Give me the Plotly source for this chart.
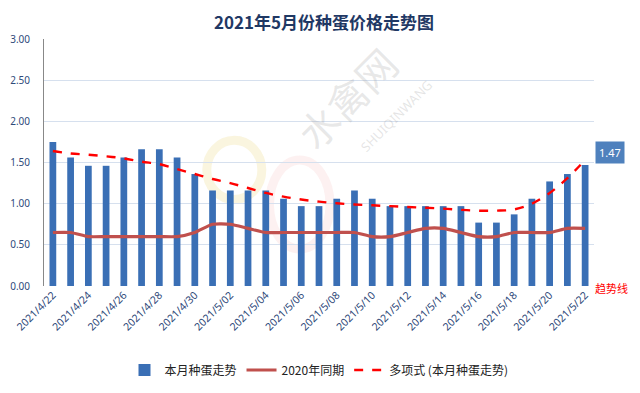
import plotly.graph_objects as go

dates = ["2021/4/22", "2021/4/23", "2021/4/24", "2021/4/25", "2021/4/26", "2021/4/27",
         "2021/4/28", "2021/4/29", "2021/4/30", "2021/5/01", "2021/5/02", "2021/5/03",
         "2021/5/04", "2021/5/05", "2021/5/06", "2021/5/07", "2021/5/08", "2021/5/09",
         "2021/5/10", "2021/5/11", "2021/5/12", "2021/5/13", "2021/5/14", "2021/5/15",
         "2021/5/16", "2021/5/17", "2021/5/18", "2021/5/19", "2021/5/20", "2021/5/21",
         "2021/5/22"]
this_month = [1.75, 1.56, 1.46, 1.46, 1.56, 1.66, 1.66, 1.56, 1.36, 1.16, 1.16, 1.16,
              1.16, 1.06, 0.97, 0.97, 1.06, 1.16, 1.06, 0.97, 0.97, 0.97, 0.97, 0.97,
              0.77, 0.77, 0.87, 1.06, 1.27, 1.36, 1.47]
same_2020 = [0.65, 0.65, 0.60, 0.60, 0.60, 0.60, 0.60, 0.60, 0.65, 0.75, 0.75, 0.70,
             0.65, 0.65, 0.65, 0.65, 0.65, 0.65, 0.60, 0.60, 0.65, 0.70, 0.70, 0.65,
             0.60, 0.60, 0.65, 0.65, 0.65, 0.70, 0.70]
trend = [1.64, 1.61, 1.595, 1.575, 1.55, 1.51, 1.48, 1.42, 1.36, 1.30, 1.25, 1.19,
         1.13, 1.085, 1.05, 1.025, 1.005, 0.99, 0.98, 0.97, 0.96, 0.95, 0.94, 0.925,
         0.915, 0.915, 0.93, 1.0, 1.13, 1.31, 1.53]
tick_labels = dates[::2]
y_ticks = [0, 0.5, 1.0, 1.5, 2.0, 2.5, 3.0]

label_color = "#2F4A7A"
cjk = "Noto Sans CJK SC"

fig = go.Figure()
fig.add_trace(go.Bar(x=dates, y=this_month, name="本月种蛋走势",
                     marker=dict(color="#3A6FB5", line=dict(width=0))))
fig.add_trace(go.Scatter(x=dates, y=same_2020, name="2020年同期", mode="lines",
                         line=dict(color="#C0504D", width=3.2, shape="spline", smoothing=0.6)))
fig.add_trace(go.Scatter(x=dates, y=trend, name="多项式 (本月种蛋走势)", mode="lines",
                         line=dict(color="#FF0000", width=2.4, dash="dash", shape="spline")))

# faint logo rings (watermark)
fig.add_shape(type="circle", xref="paper", yref="paper", x0=0.296, x1=0.396, y0=0.35, y1=0.59,
              line=dict(color="rgba(230,200,80,0.18)", width=9), layer="below")
fig.add_shape(type="circle", xref="paper", yref="paper", x0=0.41, x1=0.52, y0=0.15, y1=0.51,
              line=dict(color="rgba(240,150,150,0.13)", width=9), layer="below")
# watermark text
fig.add_annotation(x=0.55, y=0.76, xref="paper", yref="paper", text="水禽网",
                   showarrow=False, textangle=-45, xanchor="center", yanchor="middle",
                   font=dict(family=cjk, size=40, color="rgba(150,150,150,0.22)"))
fig.add_annotation(x=0.64, y=0.69, xref="paper", yref="paper", text="SHUIQINWANG",
                   showarrow=False, textangle=-45, xanchor="center", yanchor="middle",
                   font=dict(family="Noto Sans", size=13, color="rgba(150,150,150,0.25)"))

# data label
fig.add_annotation(x=dates[-1], y=this_month[-1], text=str(this_month[-1]),
                   showarrow=False, xshift=25, yshift=12, bgcolor="#4F81BD",
                   font=dict(family="Noto Sans", size=11, color="white"), borderpad=3)
# trend label
fig.add_annotation(x=1.0655, y=-0.01, xref="paper", yref="paper", text="趋势线",
                   showarrow=False, xanchor="right", yanchor="middle",
                   font=dict(family=cjk, size=11, color="#FF0000"))

# page body has an 8px margin, so the figure is 8px smaller and shifted
fig.update_layout(
    width=632, height=385,
    margin=dict(l=36, r=46, t=31, b=107, autoexpand=False),
    paper_bgcolor="white", plot_bgcolor="white",
    title=dict(text="<b>2021年5月份种蛋价格走势图</b>", x=0.5, xanchor="center",
               y=0.962, yanchor="middle",
               font=dict(family=cjk, size=17, color="#1F3864")),
    bargap=0.62,
    showlegend=True,
    legend=dict(orientation="h", x=0.5, xanchor="center", y=-0.34, yanchor="middle",
                font=dict(family=cjk, size=12, color="#222222"), traceorder="normal"),
    font=dict(family="Noto Sans", color=label_color),
)
fig.update_xaxes(type="category", range=[-0.5, len(dates) - 0.5],
                 tickmode="array", tickvals=tick_labels, ticktext=tick_labels,
                 tickangle=-45, tickfont=dict(family="Noto Sans", size=10.5, color=label_color),
                 showgrid=False, showline=False, ticks="", automargin=False)
fig.update_yaxes(range=[0, 3], tickvals=y_ticks, tickformat=".2f",
                 tickfont=dict(family="Noto Sans", size=10, color=label_color),
                 showgrid=True, gridcolor="#D6E0EE", gridwidth=1,
                 showline=True, linecolor="#888888", linewidth=1, zeroline=False,
                 ticks="", ticklabelstandoff=11, automargin=False)

fig.write_html("out.html")
